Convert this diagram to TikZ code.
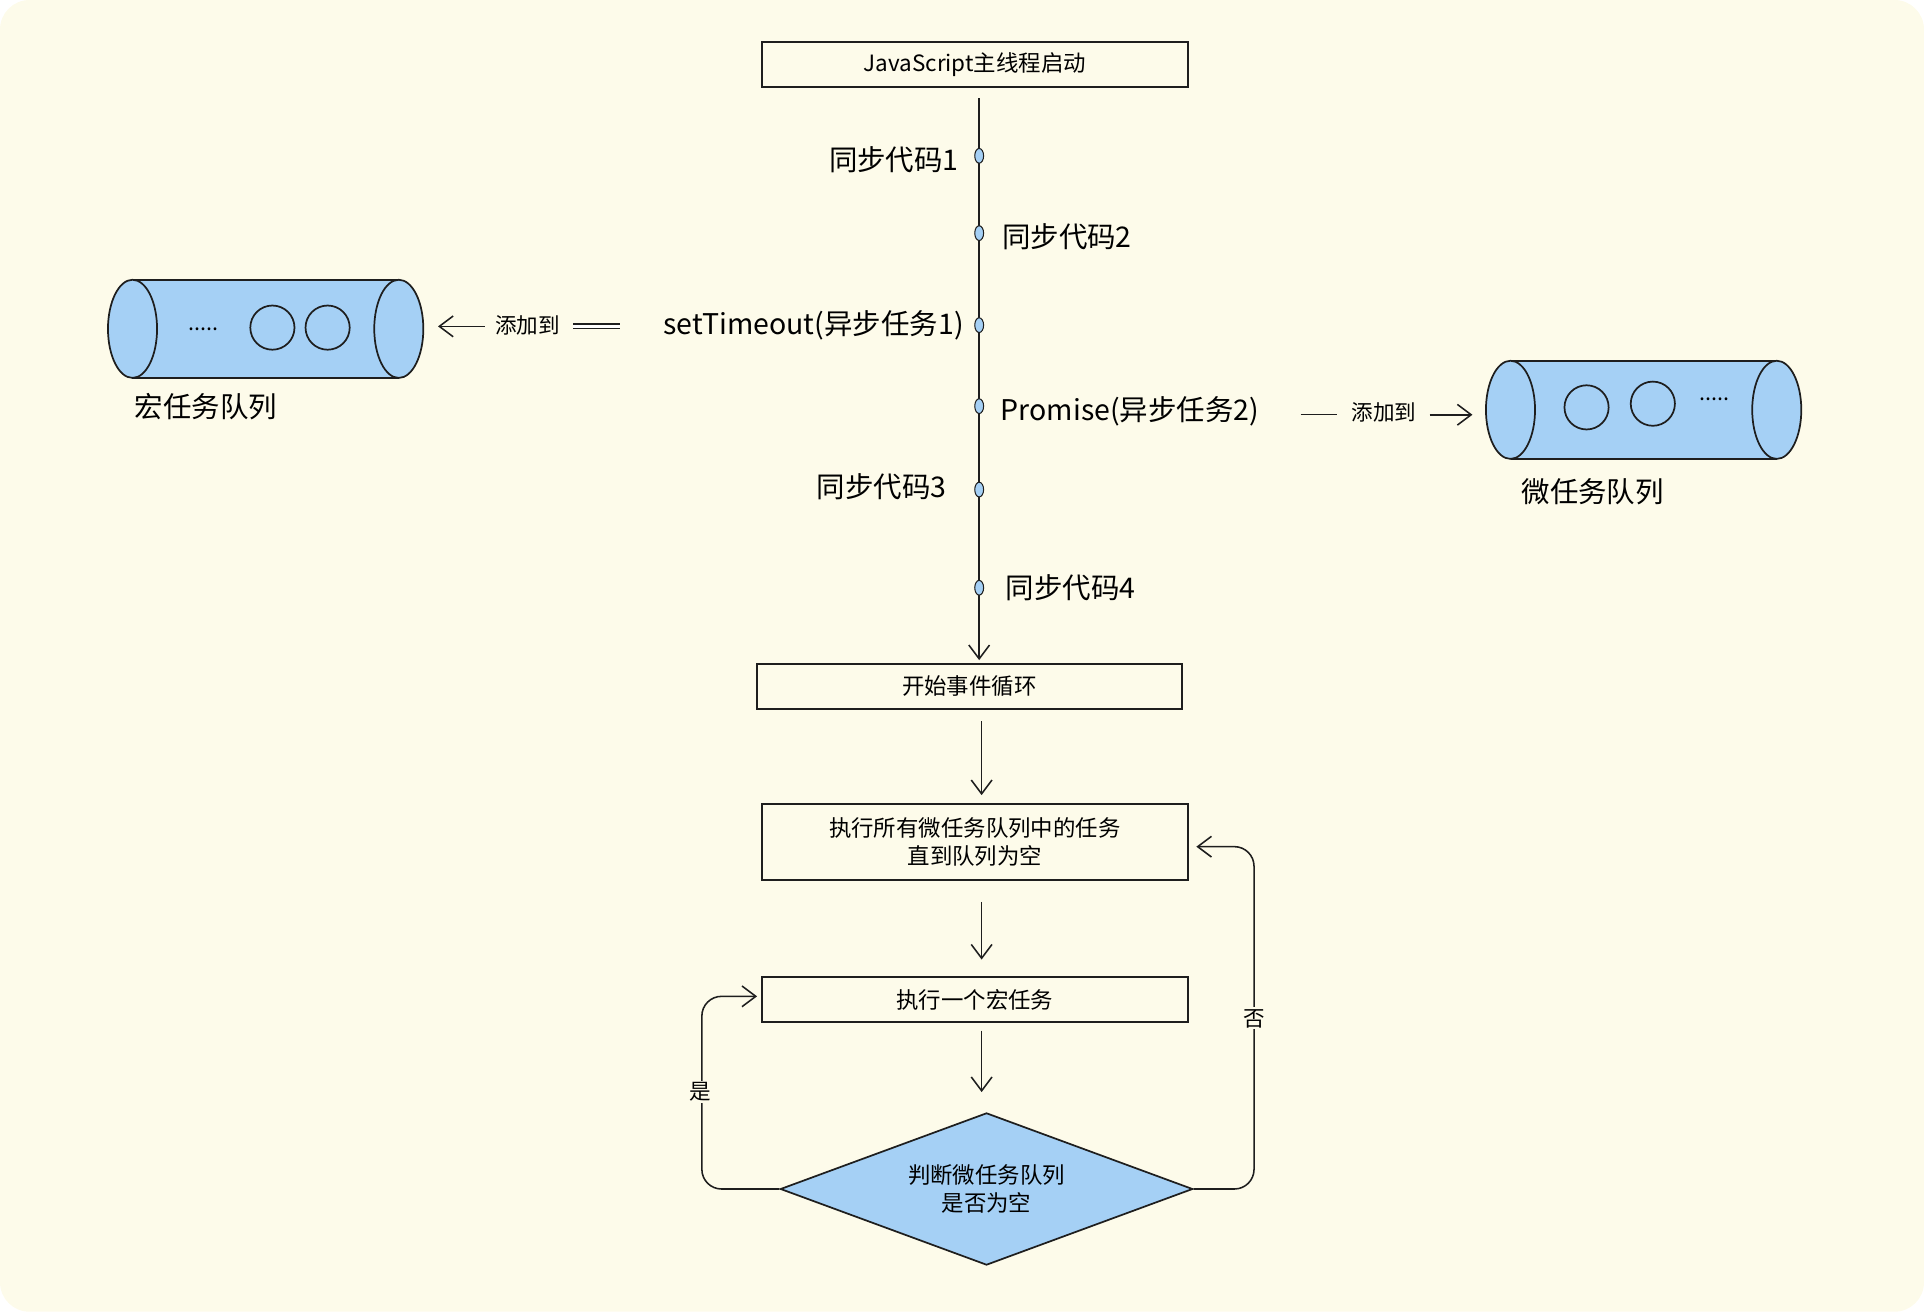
\documentclass[tikz,border=0pt]{standalone}
\usepackage{fontspec}
\setmainfont{Noto Sans CJK SC}
\usetikzlibrary{shapes.geometric,arrows.meta}
\definecolor{bg}{HTML}{FDFBEA}
\definecolor{qb}{HTML}{A5D0F5}
\definecolor{ink}{HTML}{1E1E1E}
\begin{document}
\begin{tikzpicture}[x=0.025cm,y=-0.025cm,
  box/.style={draw=ink,line width=1.2pt,minimum height=0.925cm,inner sep=0,font=\fontsize{13}{16}\selectfont,align=center},
  lbl/.style={font=\fontsize{16.5}{19}\selectfont,inner sep=1pt},
  sm/.style={font=\fontsize{12.5}{14}\selectfont,inner sep=1pt},
  arr/.style={draw=ink,line width=0.9pt,-{Straight Barb[length=8pt,width=12pt]}},
  dot/.style={ellipse,draw=ink,fill=qb,minimum width=0.18cm,minimum height=0.3cm,inner sep=0,line width=0.6pt}]
\useasboundingbox (0,0) rectangle (1568,1069);
\fill[bg,rounded corners=0.6cm] (0,0) rectangle (1568,1069);
% boxes
\node[box,minimum width=8.675cm] (start) at (794.5,52.5) {JavaScript主线程启动};
\node[box,minimum width=8.65cm] (loop) at (790,559.5) {开始事件循环};
\node[box,minimum width=8.675cm,minimum height=1.55cm] (micro) at (794.5,686) {执行所有微任务队列中的任务\\直到队列为空};
\node[box,minimum width=8.675cm] (macro) at (794.5,814.5) {执行一个宏任务};
\node[diamond,draw=ink,fill=qb,line width=1pt,minimum width=8.4cm,minimum height=3.1cm,inner sep=0,aspect=2.7,font=\fontsize{13}{16}\selectfont,align=center] (dec) at (804,969) {判断微任务队列\\是否为空};
% timeline
\coordinate (t0) at (798,80);
\coordinate (t1) at (798,538);
\draw[arr] (t0) -- (t1);
\foreach \n/\y in {a/127,b/190,c/265,d/331,e/399,f/479}
  \node[dot] (\n) at (798,\y) {};
\node[lbl,anchor=east] (la) at (783,130) {同步代码1};
\node[lbl,anchor=west] (lb) at (815,193) {同步代码2};
\node[lbl,anchor=east] (lc) at (787,265) {setTimeout(异步任务1)};
\node[lbl,anchor=west] (ld) at (814,335) {Promise(异步任务2)};
\node[lbl,anchor=east] (le) at (773,397) {同步代码3};
\node[lbl,anchor=west] (lf) at (818,479) {同步代码4};
% add-to left
\node[sm] (addl) at (430,265) {添加到};
\coordinate (dl1) at (505,266); \coordinate (dl2) at (467,266);
\draw[ink,line width=0.8pt,double distance=2pt] (dl1) -- (dl2);
\coordinate (ql) at (357,266);
\coordinate (al) at (395,266);
\draw[arr] (al) -- (ql);
% add-to right
\node[sm] (addr) at (1128,336) {添加到};
\coordinate (dr1) at (1060,338); \coordinate (dr2) at (1090,338);
\draw[ink,line width=0.8pt] (dr1) -- (dr2);
\coordinate (ar) at (1165,338);
\coordinate (qr) at (1200,338);
\draw[arr] (ar) -- (qr);
% left queue
\fill[qb] (108,228) rectangle (325,308);
\draw[ink,line width=1pt] (108,228) -- (325,228) (108,308) -- (325,308);
\draw[ink,fill=qb,line width=1pt] (108,268) ellipse [x radius=20,y radius=40];
\draw[ink,fill=qb,line width=1pt] (325,268) ellipse [x radius=20,y radius=40];
\node[draw=ink,circle,minimum size=0.9cm,line width=1pt] (c1) at (222,267) {};
\node[draw=ink,circle,minimum size=0.9cm,line width=1pt] (c2) at (267,267) {};
\node[sm] (d1) at (166,268) {.....};
\node[lbl] (macq) at (168,331) {宏任务队列};
% right queue
\fill[qb] (1231,294) rectangle (1448,374);
\draw[ink,line width=1pt] (1231,294) -- (1448,294) (1231,374) -- (1448,374);
\draw[ink,fill=qb,line width=1pt] (1231,334) ellipse [x radius=20,y radius=40];
\draw[ink,fill=qb,line width=1pt] (1448,334) ellipse [x radius=20,y radius=40];
\node[draw=ink,circle,minimum size=0.9cm,line width=1pt] (c3) at (1293,332) {};
\node[draw=ink,circle,minimum size=0.9cm,line width=1pt] (c4) at (1347,329) {};
\node[sm] (d2) at (1397,325) {.....};
\node[lbl] (micq) at (1298,401) {微任务队列};
% flow arrows
\coordinate (p1) at (800,588); \coordinate (p2) at (800,648);
\draw[arr] (p1) -- (p2);
\coordinate (p3) at (800,735); \coordinate (p4) at (800,782);
\draw[arr] (p3) -- (p4);
\coordinate (p5) at (800,840); \coordinate (p6) at (800,890);
\draw[arr] (p5) -- (p6);
% loops
\coordinate (yl) at (617,812);
\draw[arr,rounded corners=0.4cm] (dec.west) -- (572,969) -- (572,812) -- (yl);
\node[sm,fill=bg] (yes) at (571,890) {是};
\coordinate (nr) at (975,690);
\draw[arr,rounded corners=0.4cm] (dec.east) -- (1022,969) -- (1022,690) -- (nr);
\node[sm,fill=bg] (no) at (1022,830) {否};
\end{tikzpicture}
\end{document}
